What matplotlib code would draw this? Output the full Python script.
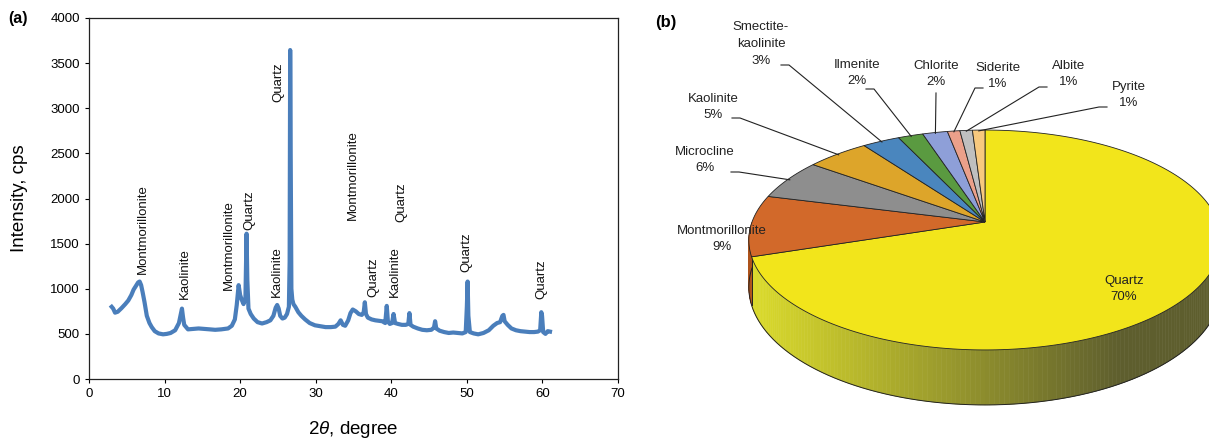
import numpy as np
import matplotlib
matplotlib.use('Agg')
import matplotlib.pyplot as plt
from matplotlib.patches import Polygon

plt.rcParams['font.family'] = ['Liberation Sans', 'DejaVu Sans']
plt.rcParams['mathtext.fontset'] = 'custom'
plt.rcParams['mathtext.rm'] = 'Liberation Sans'
plt.rcParams['mathtext.it'] = 'Liberation Sans:italic'

# ---- (a) XRD pattern ----
two_theta = [3.0, 3.2, 3.45, 3.8, 4.3, 4.8, 5.2, 5.6, 5.9, 6.2,
             6.5, 6.7, 6.9, 7.1, 7.35, 7.65, 8.0, 8.3, 8.7, 9.2,
             9.8, 10.3, 10.8, 11.4, 11.9, 12.15, 12.3, 12.45, 12.6, 13.1,
             13.8, 14.5, 15.3, 16.0, 16.7, 17.5, 18.4, 18.9, 19.3, 19.55,
             19.8, 20.0, 20.2, 20.45, 20.7, 20.85, 20.95, 21.1, 21.4, 21.8,
             22.3, 22.9, 23.5, 24.0, 24.4, 24.7, 24.9, 25.1, 25.3, 25.6,
             25.9, 26.2, 26.45, 26.55, 26.62, 26.7, 26.78, 26.9, 27.05, 27.3,
             27.7, 28.1, 28.6, 29.2, 29.9, 30.6, 31.3, 32.0, 32.6, 33.0,
             33.3, 33.6, 33.9, 34.3, 34.6, 34.9, 35.3, 35.7, 36.1, 36.35,
             36.5, 36.65, 36.9, 37.4, 37.9, 38.4, 38.8, 39.2, 39.4, 39.55,
             39.8, 40.1, 40.3, 40.5, 40.9, 41.4, 41.9, 42.25, 42.4, 42.55,
             42.9, 43.5, 44.1, 44.7, 45.3, 45.65, 45.8, 45.95, 46.4, 47.0,
             47.6, 48.2, 48.8, 49.4, 49.85, 50.0, 50.1, 50.2, 50.4, 50.9,
             51.5, 52.2, 52.9, 53.5, 54.0, 54.4, 54.7, 54.85, 55.0, 55.4,
             55.9, 56.5, 57.1, 57.7, 58.3, 58.9, 59.4, 59.7, 59.85, 59.95,
             60.1, 60.4, 60.7, 61.0]
intensity = [800, 780, 735, 745, 785, 830, 870, 930, 990, 1030,
             1070, 1080, 1040, 960, 850, 700, 620, 575, 530, 505,
             495, 500, 510, 540, 620, 720, 780, 680, 600, 550,
             555, 560, 555, 550, 545, 550, 560, 590, 660, 820,
             1040, 930, 880, 830, 900, 1610, 1100, 780, 720, 670,
             630, 615, 630, 650, 700, 790, 820, 780, 700, 670,
             680, 720, 800, 1300, 3645, 2300, 1000, 880, 830, 800,
             740, 700, 660, 620, 595, 585, 575, 575, 580, 610,
             650, 600, 590, 650, 730, 770, 750, 720, 710, 740,
             850, 720, 680, 660, 650, 645, 640, 620, 810, 640,
             610, 620, 720, 620, 610, 600, 600, 610, 730, 600,
             580, 560, 545, 540, 545, 570, 640, 560, 535, 520,
             510, 515, 510, 505, 520, 800, 1080, 700, 520, 505,
             495, 510, 540, 590, 620, 630, 700, 710, 640, 600,
             560, 540, 530, 525, 520, 520, 525, 540, 740, 700,
             520, 500, 530, 525]

peak_names = ['Montmorillonite', 'Kaolinite', 'Montmorillonite', 'Quartz',
              'Quartz', 'Kaolinite', 'Montmorillonite', 'Quartz',
              'Kaolinite', 'Quartz', 'Quartz', 'Quartz']
peak_theta = [7.1, 12.7, 18.5, 21.2, 25.1, 24.9, 34.9, 37.6, 40.5, 41.4, 50.0, 59.9]
peak_text_y = [1165, 890, 985, 1650, 3070, 905, 1760, 908, 908, 1740, 1186, 886]

# ---- (b) mineral composition ----
minerals = ['Quartz', 'Montmorillonite', 'Microcline', 'Kaolinite',
            'Smectite-\nkaolinite', 'Ilmenite', 'Chlorite', 'Siderite',
            'Albite', 'Pyrite']
shares = [70, 9, 6, 5, 3, 2, 2, 1, 1, 1]
colors = ['#F2E51B', '#D2692A', '#8E8E8E', '#DDA52A', '#4A86BE',
          '#5A9A40', '#8E9FD8', '#EBA08A', '#BFBFBF', '#F8C97E']

W, H = 1209, 442
fig = plt.figure(figsize=(W / 100, H / 100), dpi=100)

# overlay in pixel coordinates, used for the pie
axp = fig.add_axes([0, 0, 1, 1])
axp.set_xlim(0, W)
axp.set_ylim(H, 0)
axp.axis('off')

ax = fig.add_axes([89 / W, 1 - 379 / H, (618 - 89) / W, (379 - 18) / H])
ax.plot(two_theta, intensity, color='#4A7EBB', lw=3.0, solid_joinstyle='round')
ax.set_xlim(0, 70)
ax.set_ylim(0, 4000)
ax.set_xticks(np.arange(0, 71, 10))
ax.set_yticks(np.arange(0, 4001, 500))
ax.tick_params(axis='both', labelsize=9.5, direction='out', length=3, width=0.8)
for sp in ax.spines.values():
    sp.set_linewidth(0.9)
    sp.set_color('#222222')
ax.set_ylabel('Intensity, cps', fontsize=13.5, labelpad=16)
ax.set_xlabel('2$\\mathit{\\theta}$, degree', fontsize=13.5, labelpad=14)
for name, t, yv in zip(peak_names, peak_theta, peak_text_y):
    ax.text(t, yv, name, rotation=90, ha='center', va='bottom', fontsize=9.5,
            color='#111111')
fig.text(8 / W, 1 - 18 / H, '(a)', fontsize=11.5, fontweight='bold',
         va='center', ha='left')
fig.text(655 / W, 1 - 22 / H, '(b)', fontsize=12, fontweight='bold',
         va='center', ha='left')

# ---- 3D pie with a simple perspective ----
PCX, PCY, PA, PB, PK, PH = 985.0, 222.0, 233.0, 107.0, 0.1636, 46.0


def proj(phi, r=1.0, z=0.0):
    p = np.radians(phi)
    u = r * np.sin(p)
    v = r * np.cos(p)
    s = 1.0 / (1.0 + PK * v)
    return PCX + PA * u * s, PCY - (PB * v + PH * z) * s


bounds = np.concatenate([[0], np.cumsum(shares)]) * 3.6

# side wall (front half, 90..270 deg), shaded left to right
x_left = proj(270)[0]
x_dark = 1120.0
light = np.array([0.86, 0.86, 0.17])
dark = np.array([0.37, 0.37, 0.18])
mont_side = (0.68, 0.32, 0.10)
step = 1.0
for a0 in np.arange(90, 270, step):
    a1 = a0 + step
    xs0, ys0 = proj(a0)
    xs1, ys1 = proj(a1)
    xb0, yb0 = proj(a0, z=-1)
    xb1, yb1 = proj(a1, z=-1)
    mid = 0.5 * (a0 + a1)
    if mid < bounds[1]:
        t = np.clip(((xs0 + xs1) / 2 - x_left) / (x_dark - x_left), 0, 1)
        col = light * (1 - t) + dark * t
    else:
        col = mont_side
    axp.add_patch(Polygon([(xs0, ys0), (xs1, ys1), (xb1, yb1), (xb0, yb0)],
                          closed=True, facecolor=col, edgecolor=col, lw=0.4,
                          zorder=1))
arc = np.linspace(90, 270, 200)
bx, by = proj(arc, z=-1)
axp.plot(bx, by, color='#222222', lw=0.7, zorder=2)
for a in [270, bounds[1]]:
    x0, y0 = proj(a)
    x1, y1 = proj(a, z=-1)
    axp.plot([x0, x1], [y0, y1], color='#222222', lw=0.7, zorder=2)

# top face
for i in range(len(shares)):
    n = max(int((bounds[i + 1] - bounds[i]) * 2), 4)
    arc = np.linspace(bounds[i], bounds[i + 1], n)
    xs, ys = proj(arc)
    pts = [(PCX, PCY)] + list(zip(xs, ys))
    axp.add_patch(Polygon(pts, closed=True, facecolor=colors[i],
                          edgecolor='#222222', lw=0.6, zorder=3))

# labels with leader lines
lab_xy = [(1124, 289), (722, 239), (705, 160), (713, 107), (761, 44),
          (857, 73), (936, 74), (998, 76), (1069, 74), (1129, 95)]
lead_xy = [None, None, (735, 172), (736, 118), (785, 65),
           (870, 89), (936, 93), (979, 88), (1043, 87), (1103, 107)]
for i, name in enumerate(minerals):
    x, y = lab_xy[i]
    axp.text(x, y, f'{name}\n{shares[i]}%', ha='center', va='center',
             fontsize=9.5, color='#222222', linespacing=1.5, zorder=5)
    if lead_xy[i] is None:
        continue
    mid = 0.5 * (bounds[i] + bounds[i + 1])
    ex, ey = proj(mid, r=0.99)
    lx, ly = lead_xy[i]
    if i == 6:
        axp.plot([lx, ex], [ly, ey], color='#222222', lw=0.8, zorder=4)
    else:
        sgn = 1 if lx < ex else -1
        axp.plot([lx - 4 * sgn, lx + 4 * sgn, ex], [ly, ly, ey],
                 color='#222222', lw=0.8, zorder=4)

fig.savefig('out.png', dpi=100)
